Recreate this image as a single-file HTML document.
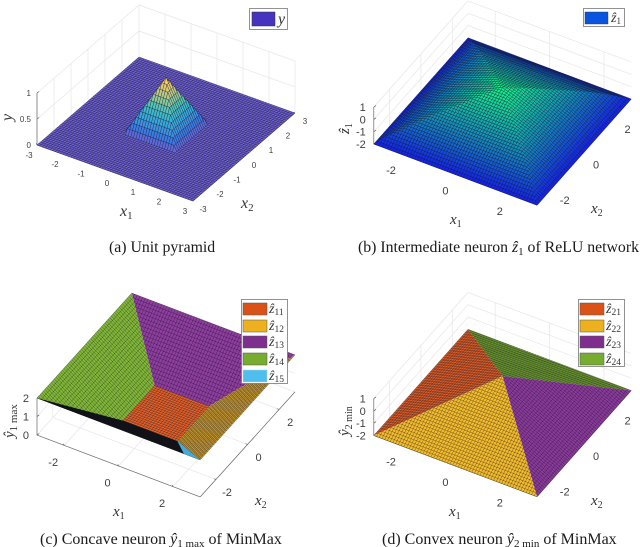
<!DOCTYPE html>
<html>
<head>
<meta charset="utf-8">
<style>
html,body{margin:0;padding:0;background:#fff;}
svg{display:block;filter:blur(0.35px);}
text{font-family:"Liberation Serif",serif;}
.tick{font-family:"Liberation Sans",sans-serif;fill:#404040;}
.cap{font-size:15.8px;fill:#1a1a1a;}
.cap2{font-size:16px;fill:#1a1a1a;}
.ax{font-style:italic;font-size:16px;fill:#333;}
.leg{font-style:italic;font-size:14px;fill:#333;}
.sub{font-style:normal;}
</style>
</head>
<body>
<svg id="fig" width="640" height="547" viewBox="0 0 640 547" xmlns="http://www.w3.org/2000/svg">
<g id="plots"></g>

<g>
  <text class="ax" x="120" y="216">x<tspan class="sub" font-size="11" dy="3">1</tspan></text>
  <text class="ax" x="241" y="208">x<tspan class="sub" font-size="11" dy="3">2</tspan></text>
  <text class="ax" transform="translate(12,121) rotate(-90)">y</text>
  <g>
    <rect x="249.5" y="8.5" width="38" height="21" fill="#fff" stroke="#777" stroke-width="0.8"/>
    <rect x="252" y="12" width="23" height="14" fill="#4534bf" stroke="#333" stroke-width="0.5"/>
    <text class="ax" x="278" y="24">y</text>
  </g>
  <text class="cap" x="109" y="252">(a) Unit pyramid</text>
</g>

<g>
  <text class="ax" x="450" y="224" style="font-size:15px">x<tspan class="sub" font-size="10" dy="3">1</tspan></text>
  <text class="ax" x="591" y="213" style="font-size:15px">x<tspan class="sub" font-size="10" dy="3">2</tspan></text>
  <text class="ax" transform="translate(349,134) rotate(-90)" style="font-size:15px">ẑ<tspan class="sub" font-size="10" dy="3">1</tspan></text>
  <g>
    <rect x="583.5" y="8.5" width="41" height="18" fill="#fff" stroke="#777" stroke-width="0.8"/>
    <rect x="585" y="12" width="23" height="12" fill="#0a55dd" stroke="#333" stroke-width="0.4"/>
    <text class="leg" x="611" y="22">ẑ<tspan class="sub" font-size="9" dy="2">1</tspan></text>
  </g>
  <text class="cap" x="358" y="252">(b) Intermediate neuron <tspan font-style="italic">ẑ</tspan><tspan font-size="11" dy="3">1</tspan><tspan dy="-3"> of ReLU network</tspan></text>
</g>

<g>
  <text class="ax" x="113" y="516" style="font-size:15px">x<tspan class="sub" font-size="10" dy="3">1</tspan></text>
  <text class="ax" x="255" y="505" style="font-size:15px">x<tspan class="sub" font-size="10" dy="3">2</tspan></text>
  <text class="ax" transform="translate(14,438) rotate(-90)" style="font-size:15px">ŷ<tspan class="sub" font-size="11" dy="3">1 max</tspan></text>
  <g>
    <rect x="241.5" y="299.5" width="46" height="84" fill="#fff" stroke="#777" stroke-width="0.8"/>
    <rect x="243" y="303" width="24" height="12" fill="#d95319" stroke="#555" stroke-width="0.5"/>
    <rect x="243" y="320" width="24" height="12" fill="#edb120" stroke="#555" stroke-width="0.5"/>
    <rect x="243" y="336" width="24" height="12" fill="#7e2f8e" stroke="#555" stroke-width="0.5"/>
    <rect x="243" y="353" width="24" height="12" fill="#77ac30" stroke="#555" stroke-width="0.5"/>
    <rect x="243" y="370" width="24" height="12" fill="#4dbeee" stroke="#ccc" stroke-width="0.5"/>
    <text class="leg" x="269" y="313">ẑ<tspan class="sub" font-size="9.5" dy="2">11</tspan></text>
    <text class="leg" x="269" y="330">ẑ<tspan class="sub" font-size="9.5" dy="2">12</tspan></text>
    <text class="leg" x="269" y="346">ẑ<tspan class="sub" font-size="9.5" dy="2">13</tspan></text>
    <text class="leg" x="269" y="363">ẑ<tspan class="sub" font-size="9.5" dy="2">14</tspan></text>
    <text class="leg" x="269" y="380">ẑ<tspan class="sub" font-size="9.5" dy="2">15</tspan></text>
  </g>
  <text class="cap2" x="40" y="544">(c) Concave neuron <tspan font-style="italic">ŷ</tspan><tspan font-size="11" dy="3">1 max</tspan><tspan dy="-3"> of MinMax</tspan></text>
</g>

<g>
  <text class="ax" x="449" y="516" style="font-size:15px">x<tspan class="sub" font-size="10" dy="3">1</tspan></text>
  <text class="ax" x="591" y="505" style="font-size:15px">x<tspan class="sub" font-size="10" dy="3">2</tspan></text>
  <text class="ax" transform="translate(349,436) rotate(-90)" style="font-size:15px">ŷ<tspan class="sub" font-size="10" dy="3">2 min</tspan></text>
  <g>
    <rect x="578.5" y="299.5" width="46" height="67" fill="#fff" stroke="#777" stroke-width="0.8"/>
    <rect x="580" y="303" width="24" height="12" fill="#d95319" stroke="#555" stroke-width="0.5"/>
    <rect x="580" y="320" width="24" height="12" fill="#edb120" stroke="#555" stroke-width="0.5"/>
    <rect x="580" y="336" width="24" height="12" fill="#7e2f8e" stroke="#555" stroke-width="0.5"/>
    <rect x="580" y="353" width="24" height="12" fill="#77ac30" stroke="#555" stroke-width="0.5"/>
    <text class="leg" x="606" y="313">ẑ<tspan class="sub" font-size="9.5" dy="2">21</tspan></text>
    <text class="leg" x="606" y="330">ẑ<tspan class="sub" font-size="9.5" dy="2">22</tspan></text>
    <text class="leg" x="606" y="346">ẑ<tspan class="sub" font-size="9.5" dy="2">23</tspan></text>
    <text class="leg" x="606" y="363">ẑ<tspan class="sub" font-size="9.5" dy="2">24</tspan></text>
  </g>
  <text class="cap2" x="382" y="544">(d) Convex neuron <tspan font-style="italic">ŷ</tspan><tspan font-size="11" dy="3">2 min</tspan><tspan dy="-3"> of MinMax</tspan></text>
</g>
</svg>

<script>
// ---- chart data ----
const xTicksA = [-3, -2, -1, 0, 1, 2, 3];
const zTicksA = [0, 0.5, 1];
const xTicksWide = [-2, 0, 2];
const zTicksB = [-2, -1, 0, 1];
const zTicksC = [0, 1, 2];
const zTicksD = [-2, -1, 0, 1];

// heights on the x1 / x2 grid from -3 to 3 in 0.5 steps (rows: x1, columns: x2)
const heightsA = [
  [0,0,0,0,0,0,0,0,0,0,0,0,0],
  [0,0,0,0,0,0,0,0,0,0,0,0,0],
  [0,0,0,0,0,0,0,0,0,0,0,0,0],
  [0,0,0,0,0,0,0,0,0,0,0,0,0],
  [0,0,0,0,0,0,0,0,0,0,0,0,0],
  [0,0,0,0,0,0.5,0.5,0.5,0,0,0,0,0],
  [0,0,0,0,0,0.5,1,0.5,0,0,0,0,0],
  [0,0,0,0,0,0.5,0.5,0.5,0,0,0,0,0],
  [0,0,0,0,0,0,0,0,0,0,0,0,0],
  [0,0,0,0,0,0,0,0,0,0,0,0,0],
  [0,0,0,0,0,0,0,0,0,0,0,0,0],
  [0,0,0,0,0,0,0,0,0,0,0,0,0],
  [0,0,0,0,0,0,0,0,0,0,0,0,0]
];
const heightsB = [
  [-2,-2,-2,-2,-2,-2,-2,-2,-2,-2,-2,-2,-2],
  [-2,-1.35,-1.35,-1.35,-1.35,-1.35,-1.35,-1.35,-1.35,-1.35,-1.35,-1.35,-2],
  [-2,-1.35,-0.82,-0.82,-0.82,-0.82,-0.82,-0.82,-0.82,-0.82,-0.82,-1.35,-2],
  [-2,-1.35,-0.82,-0.38,-0.38,-0.38,-0.38,-0.38,-0.38,-0.38,-0.82,-1.35,-2],
  [-2,-1.35,-0.82,-0.38,0.02,0.02,0.02,0.02,0.02,-0.38,-0.82,-1.35,-2],
  [-2,-1.35,-0.82,-0.38,0.02,0.42,0.42,0.42,0.02,-0.38,-0.82,-1.35,-2],
  [-2,-1.35,-0.82,-0.38,0.02,0.42,0.75,0.42,0.02,-0.38,-0.82,-1.35,-2],
  [-2,-1.35,-0.82,-0.38,0.02,0.42,0.42,0.42,0.02,-0.38,-0.82,-1.35,-2],
  [-2,-1.35,-0.82,-0.38,0.02,0.02,0.02,0.02,0.02,-0.38,-0.82,-1.35,-2],
  [-2,-1.35,-0.82,-0.38,-0.38,-0.38,-0.38,-0.38,-0.38,-0.38,-0.82,-1.35,-2],
  [-2,-1.35,-0.82,-0.82,-0.82,-0.82,-0.82,-0.82,-0.82,-0.82,-0.82,-1.35,-2],
  [-2,-1.35,-1.35,-1.35,-1.35,-1.35,-1.35,-1.35,-1.35,-1.35,-1.35,-1.35,-2],
  [-2,-2,-2,-2,-2,-2,-2,-2,-2,-2,-2,-2,-2]
];

// surface pieces: vertices as [x1, x2, value]
const z13Piece = [[-3,3,2],[3,3,2],[1,1,0],[-1,1,0]];
const z14Piece = [[-3,-3,2],[-3,3,2],[-1,1,0],[-1,-1,0]];
const z11Piece = [[-1,-1,0],[-1,1,0],[1,1,0],[1,-1,0]];
const z12Piece = [[1,-1,0],[1,1,0],[3,3,2],[3,-3,2]];
const zFrontPiece = [[-3,-3,2],[-1,-1,0],[1,-1,0],[3,-3,2]];
const z15Piece = [[1,-1,0],[3,-3,2],[2.4,-3,2]];

const z21Piece = [[-3,-3,-2],[-3,3,-2],[0,0,1]];
const z24Piece = [[-3,3,-2],[3,3,-2],[0,0,1]];
const z23Piece = [[3,3,-2],[3,-3,-2],[0,0,1]];
const z22Piece = [[-3,-3,-2],[3,-3,-2],[0,0,1]];

// ---- rendering ----
const svgNS = 'http://www.w3.org/2000/svg';
const plots = document.getElementById('plots');

function make(tag, parent, name) {
  const el = document.createElementNS(svgNS, tag);
  
  
  parent.appendChild(el);
  return el;
}

function projector(cfg) {
  return function (x1, x2, z) {
    return [
      cfg.cx + cfg.ux * x1 + cfg.vx * x2,
      cfg.cy + cfg.uy * x1 + cfg.vy * x2 - (z - cfg.z0) * cfg.zs
    ];
  };
}
const fmt = p => p[0].toFixed(2) + ',' + p[1].toFixed(2);

function drawFrame(parent, cfg, P) {
  const g = make('g', parent, 'axes-frame');
  let grid = '', axis = '';
  const top = cfg.zTicks[cfg.zTicks.length - 1], bot = cfg.zTicks[0];
  const seg = (a, b) => 'M' + fmt(a) + 'L' + fmt(b);
  cfg.zTicks.forEach(z => {
    grid += seg(P(-3, -3, z), P(-3, 3, z)) + seg(P(-3, 3, z), P(3, 3, z));
  });
  cfg.xTicks.forEach(t => {
    grid += seg(P(-3, t, bot), P(-3, t, top));
    grid += seg(P(t, 3, bot), P(t, 3, top));
    grid += seg(P(t, -3, bot), P(t, 3, bot));
    grid += seg(P(-3, t, bot), P(3, t, bot));
  });
  const gridPath = make('path', g, 'grid-lines');
  gridPath.setAttribute('d', grid);
  gridPath.setAttribute('stroke', '#e6e6e6');
  gridPath.setAttribute('stroke-width', '0.7');
  gridPath.setAttribute('fill', 'none');

  axis += seg(P(-3, -3, bot), P(3, -3, bot));
  axis += seg(P(3, -3, bot), P(3, 3, bot));
  axis += seg(P(-3, -3, bot), P(-3, -3, top));
  cfg.xTicks.forEach(t => {
    const a = P(t, -3, bot), b = P(3, t, bot);
    axis += 'M' + fmt(a) + 'l-0.8,-1.6';
    axis += 'M' + fmt(b) + 'l-2,-0.7';
  });
  cfg.zTicks.forEach(z => {
    const a = P(-3, -3, z);
    axis += 'M' + fmt(a) + 'l2.2,-1.5';
  });
  const axisPath = make('path', g, 'axis-lines');
  axisPath.setAttribute('d', axis);
  axisPath.setAttribute('stroke', '#666');
  axisPath.setAttribute('stroke-width', '0.7');
  axisPath.setAttribute('fill', 'none');
}

function drawTickLabels(parent, cfg, P) {
  const bot = cfg.zTicks[0];
  const g = make('g', parent, 'tick-labels');
  const put = (name, p, dx, dy, s, anchor) => {
    const t = make('text', g, name);
    t.setAttribute('class', 'tick');
    t.setAttribute('x', (p[0] + dx).toFixed(1));
    t.setAttribute('y', (p[1] + dy + cfg.font * 0.36).toFixed(1));
    t.setAttribute('font-size', cfg.font);
    t.setAttribute('text-anchor', anchor);
    t.textContent = s;
  };
  cfg.xTicks.forEach(t => {
    put('x1-tick-label', P(t, -3, bot), cfg.x1Off[0], cfg.x1Off[1], String(t), 'middle');
    put('x2-tick-label', P(3, t, bot), cfg.x2Off[0], cfg.x2Off[1], String(t), 'middle');
  });
  cfg.zTicks.forEach(z => {
    put('z-tick-label', P(-3, -3, z), cfg.zOff, 0, String(z), 'end');
  });
}

const parulaStops = [[80,62,200],[15,92,221],[20,129,214],[6,164,202],[46,183,164],[135,191,119],[209,187,89],[254,200,50],[249,251,14]];
function parula(t) {
  t = Math.max(0, Math.min(1, t)) * (parulaStops.length - 1);
  const i = Math.min(parulaStops.length - 2, Math.floor(t)), f = t - i;
  return parulaStops[i].map((c, k) => c + (parulaStops[i + 1][k] - c) * f);
}
function winter(t) {
  t = Math.max(0, Math.min(1, t));
  return [20, 30 + 225 * t, 240 - 110 * t];
}

function drawHeightSurface(parent, cfg, P, heights, colorOf, name) {
  const g = make('g', parent, name);
  const steps = 5, n = heights.length - 1;
  // each grid cell is split into two flat triangles along its crease
  const h = (a, b) => {
    const i = Math.min(n - 1, Math.floor(a / steps)), j = Math.min(n - 1, Math.floor(b / steps));
    const fa = a / steps - i, fb = b / steps - j;
    const h00 = heights[i][j], h10 = heights[i + 1][j], h01 = heights[i][j + 1], h11 = heights[i + 1][j + 1];
    if (Math.abs(h10 - h01) <= Math.abs(h00 - h11)) {
      if (fa >= fb) return h00 + fa * (h10 - h00) + fb * (h11 - h10);
      return h00 + fb * (h01 - h00) + fa * (h11 - h01);
    }
    if (fa + fb <= 1) return h00 + fa * (h10 - h00) + fb * (h01 - h00);
    return h11 + (1 - fa) * (h01 - h11) + (1 - fb) * (h10 - h11);
  };
  const x = k => -3 + k * 0.1;
  for (let a = 0; a < n * steps; a++) {
    for (let b = n * steps - 1; b >= 0; b--) {
      const c = [[a, b], [a + 1, b], [a + 1, b + 1], [a, b + 1]];
      let sum = 0;
      const pts = c.map(q => { const v = h(q[0], q[1]); sum += v; return fmt(P(x(q[0]), x(q[1]), v)); });
      const col = colorOf(sum / 4).map(Math.round);
      const poly = make('polygon', g, 'surface-cell');
      poly.setAttribute('points', pts.join(' '));
      poly.setAttribute('fill', 'rgb(' + col.join(',') + ')');
      poly.setAttribute('stroke', cfg.meshColor);
      poly.setAttribute('stroke-width', cfg.meshWidth);
    }
  }
}

function drawPiece(parent, cfg, P, piece, fill, mesh, meshW, name) {
  const poly = make('polygon', parent, name);
  poly.setAttribute('points', piece.map(v => fmt(P(v[0], v[1], v[2]))).join(' '));
  poly.setAttribute('fill', fill);
  let d = '';
  for (let k = 0; k <= 60; k++) {
    const c = -3 + k * 0.1;
    for (let axis = 0; axis < 2; axis++) {
      const hits = [];
      piece.forEach((a, i) => {
        const b = piece[(i + 1) % piece.length];
        const da = a[axis] - c, db = b[axis] - c;
        if (da * db <= 0 && a[axis] !== b[axis]) {
          const t = da / (a[axis] - b[axis]);
          hits.push([a[0] + (b[0] - a[0]) * t, a[1] + (b[1] - a[1]) * t, a[2] + (b[2] - a[2]) * t]);
        }
      });
      if (hits.length >= 2) {
        hits.sort((p, q) => p[1 - axis] - q[1 - axis]);
        const p = hits[0], q = hits[hits.length - 1];
        d += 'M' + fmt(P(p[0], p[1], p[2])) + 'L' + fmt(P(q[0], q[1], q[2]));
      }
    }
  }
  const path = make('path', parent, name + '-mesh');
  path.setAttribute('d', d);
  path.setAttribute('stroke', mesh);
  path.setAttribute('stroke-width', meshW);
  path.setAttribute('fill', 'none');
}

const cfgA = {cx:166, cy:129, ux:26, uy:9.33, vx:17, vy:-14.67, z0:0, zs:52,
  xTicks:xTicksA, zTicks:zTicksA, font:8, x1Off:[-8,10], x2Off:[10,8], zOff:-6,
  meshColor:'rgba(15,15,50,0.68)', meshWidth:0.45};
const cfgB = {cx:502.5, cy:121.5, ux:27.2, uy:10.2, vx:15.7, vy:-17.7, z0:-2, zs:12.3,
  xTicks:xTicksWide, zTicks:zTicksB, font:11, x1Off:[-10,16], x2Off:[12,12.5], zOff:-8,
  meshColor:'rgba(10,20,40,0.72)', meshWidth:0.45};
const cfgC = {cx:166, cy:413.5, ux:27.2, uy:10.3, vx:15.8, vy:-17.5, z0:0, zs:18.5,
  xTicks:xTicksWide, zTicks:zTicksC, font:11, x1Off:[-11,16.5], x2Off:[11,12.5], zOff:-8};
const cfgD = {cx:502.5, cy:413, ux:27.2, uy:10.2, vx:15.7, vy:-17.7, z0:-2, zs:12.3,
  xTicks:xTicksWide, zTicks:zTicksD, font:11, x1Off:[-10,16], x2Off:[12,12.5], zOff:-8};

const blend = c => c.map(v => v + (255 - v) * 0.18);

// panel a
(function () {
  const g = make('g', plots, 'panel-a');
  const P = projector(cfgA);
  drawFrame(g, cfgA, P);
  drawHeightSurface(g, cfgA, P, heightsA, z => blend(parula(z * 0.92)), 'pyramid-surface');
  drawTickLabels(g, cfgA, P);
})();

// panel b
(function () {
  const g = make('g', plots, 'panel-b');
  const P = projector(cfgB);
  drawFrame(g, cfgB, P);
  drawHeightSurface(g, cfgB, P, heightsB, z => winter((z + 2) / 2.9), 'neuron-z1-surface');
  drawTickLabels(g, cfgB, P);
})();

// panel c
(function () {
  const g = make('g', plots, 'panel-c');
  const P = projector(cfgC);
  drawFrame(g, cfgC, P);
  const m = 'rgba(15,15,25,0.65)';
  drawPiece(g, cfgC, P, z13Piece, '#8f3ea0', m, 0.42, 'surface-z13');
  drawPiece(g, cfgC, P, z14Piece, '#82b838', m, 0.42, 'surface-z14');
  drawPiece(g, cfgC, P, z11Piece, '#e0602a', m, 0.42, 'surface-z11');
  drawPiece(g, cfgC, P, z12Piece, '#e8b238', 'rgba(15,15,25,0.65)', 0.45, 'surface-z12');
  drawPiece(g, cfgC, P, zFrontPiece, '#1a1c24', '#101216', 0.4, 'surface-front-underside');
  drawPiece(g, cfgC, P, z15Piece, '#4dbeee', 'rgba(20,60,90,0.25)', 0.2, 'surface-z15');
  drawTickLabels(g, cfgC, P);
})();

// panel d
(function () {
  const g = make('g', plots, 'panel-d');
  const P = projector(cfgD);
  drawFrame(g, cfgD, P);
  const m = 'rgba(15,15,25,0.65)';
  drawPiece(g, cfgD, P, z24Piece, '#7db234', m, 0.42, 'surface-z24');
  drawPiece(g, cfgD, P, z21Piece, '#e0602a', m, 0.42, 'surface-z21');
  drawPiece(g, cfgD, P, z23Piece, '#8a3a9a', m, 0.42, 'surface-z23');
  drawPiece(g, cfgD, P, z22Piece, '#f2bb2c', m, 0.42, 'surface-z22');
  drawTickLabels(g, cfgD, P);
})();
</script>
</body>
</html>
